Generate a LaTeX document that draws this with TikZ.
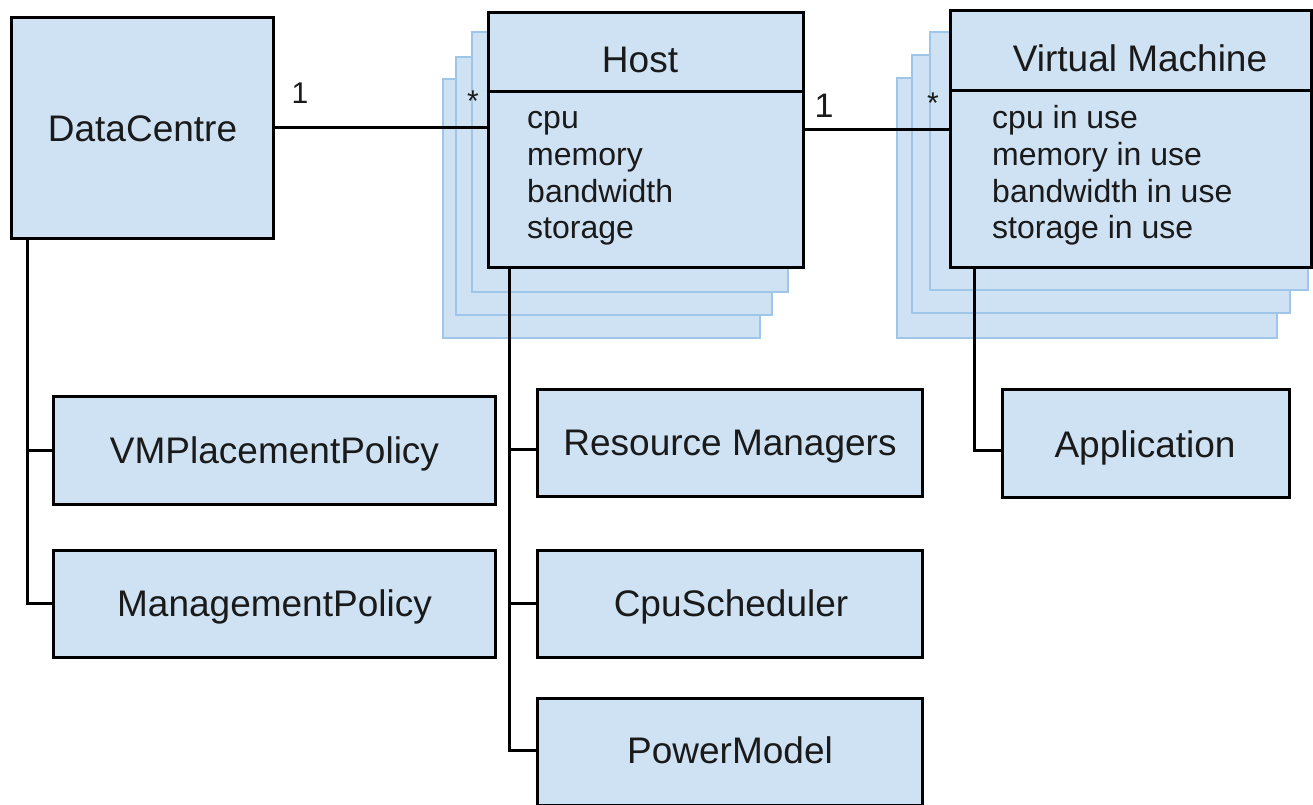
\documentclass[tikz,border=0pt]{standalone}
\usepackage{fontspec}
\setmainfont{Liberation Sans}
\usetikzlibrary{calc}
\definecolor{boxfill}{HTML}{CFE2F3}
\definecolor{shadowline}{HTML}{9FC5E8}
\definecolor{txt}{HTML}{1A1A1A}
\begin{document}
\begin{tikzpicture}[x=1pt,y=-1pt,
  box/.style={draw=black, line width=3pt, fill=boxfill, rectangle, inner sep=0pt},
  shadowbox/.style={draw=shadowline, line width=2pt, fill=boxfill},
  conn/.style={draw=black, line width=3pt},
  divider/.style={draw=black, line width=3pt},
  attr/.style={anchor=base west, inner sep=0pt, text=txt, font=\fontsize{32}{36}\selectfont},
  title/.style={anchor=base, inner sep=0pt, text=txt, font=\fontsize{37}{44}\selectfont},
  mult/.style={anchor=base, inner sep=0pt, text=txt, font=\fontsize{30}{36}\selectfont}]
\useasboundingbox (0,0) rectangle (1313,804);
\clip (0,0) rectangle (1313,804);

% stacked shadows of Host
\draw[shadowbox] (443,79) rectangle (760,338);
\draw[shadowbox] (456,57) rectangle (772,315);
\draw[shadowbox] (472,32) rectangle (788,292);
% stacked shadows of Virtual Machine
\draw[shadowbox] (897,78) rectangle (1277,338);
\draw[shadowbox] (912,55) rectangle (1290,313);
\draw[shadowbox] (930,32) rectangle (1308,290);

% boxes
\node[box, minimum width=262pt, minimum height=221pt] (dc) at (142,127.5) {};
\node[box, minimum width=315pt, minimum height=255pt] (host) at (645.5,139.5) {};
\node[box, minimum width=361pt, minimum height=257pt] (vm) at (1130.5,138.5) {};
\node[box, minimum width=442pt, minimum height=108pt] (vmp) at (274,450) {};
\node[box, minimum width=442pt, minimum height=107pt] (mgmt) at (274,603.5) {};
\node[box, minimum width=385pt, minimum height=107pt] (rm) at (729.5,442.5) {};
\node[box, minimum width=385pt, minimum height=107pt] (cpus) at (729.5,603.5) {};
\node[box, minimum width=385pt, minimum height=107pt] (pm) at (729.5,751.5) {};
\node[box, minimum width=287pt, minimum height=108pt] (app) at (1145.5,443) {};

% connector anchors
\coordinate (dctrunk) at ($(dc.south west)+(18,0)$);
\coordinate (hosttrunk) at ($(host.south west)+(23,0)$);
\coordinate (vmtrunk) at ($(vm.south west)+(26,0)$);
\coordinate (hostvmy) at ($(host.east)+(0,-10.5)$);
\coordinate (rmin) at ($(rm.west)+(0,6.5)$);
\coordinate (pmin) at ($(pm.west)+(0,-1.5)$);
\coordinate (appin) at ($(app.west)+(0,7)$);

% connectors
\draw[conn] (dc.east) -- (dc.east -| host.west);
\draw[conn] (hostvmy) -- (hostvmy -| vm.west);
\draw[conn] (dctrunk) |- (vmp.west);
\draw[conn] (dctrunk) |- (mgmt.west);
\draw[conn] (hosttrunk) |- (rmin);
\draw[conn] (hosttrunk) |- (cpus.west);
\draw[conn] (hosttrunk) |- (pmin);
\draw[conn] (vmtrunk) |- (appin);

% compartment dividers
\draw[divider] (host.west |- 0,91) -- (host.east |- 0,91);
\draw[divider] (vm.west |- 0,90) -- (vm.east |- 0,90);

% titles
\node[title] (dct) at (142.5,141.8) {DataCentre};
\node[title] (hostt) at (640,72.3) {Host};
\node[title] (vmt) at (1140,71) {Virtual Machine};
\node[title] (vmpt) at (274.5,463) {VMPlacementPolicy};
\node[title] (mgmtt) at (274.5,616) {ManagementPolicy};
\node[title] (rmt) at (730,455) {Resource Managers};
\node[title] (cpust) at (731,616) {CpuScheduler};
\node[title] (pmt) at (730,763) {PowerModel};
\node[title] (appt) at (1145,457) {Application};

% attributes
\node[attr] (h1) at (527,128) {cpu};
\node[attr] (h2) at (527,165) {memory};
\node[attr] (h3) at (527,202) {bandwidth};
\node[attr] (h4) at (527,238) {storage};
\node[attr] (v1) at (992,128) {cpu in use};
\node[attr] (v2) at (992,165) {memory in use};
\node[attr] (v3) at (992,202) {bandwidth in use};
\node[attr] (v4) at (992,238) {storage in use};

% multiplicities
\node[mult] (m1) at (300,103) {1};
\node[mult] (m2) at (473,111) {*};
\node[mult, font=\fontsize{34}{40}\selectfont] (m3) at (824,117) {1};
\node[mult] (m4) at (933,113) {*};
\end{tikzpicture}
\end{document}
